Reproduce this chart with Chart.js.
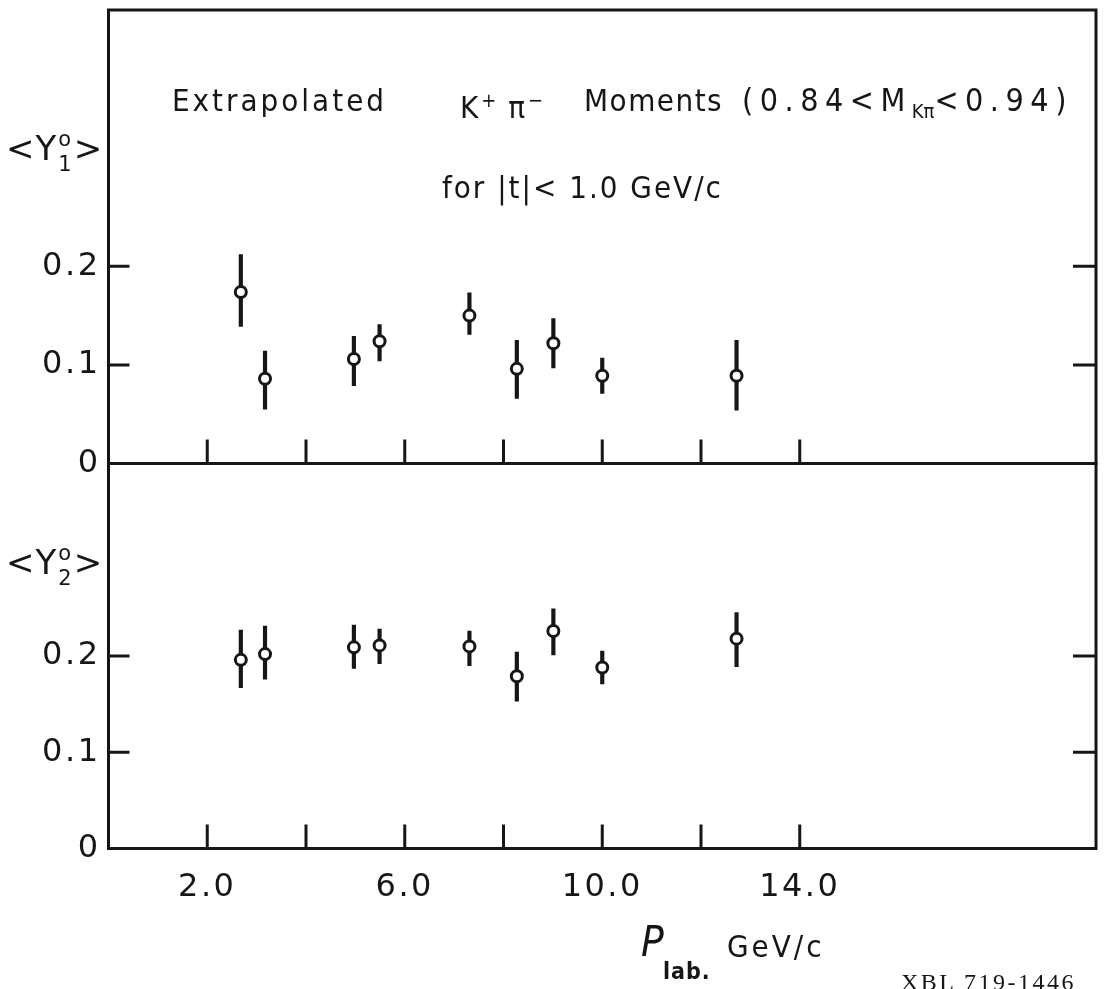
<!DOCTYPE html>
<html>
<head>
<meta charset="utf-8">
<title>Extrapolated K+ pi- Moments</title>
<script src="https://cdn.jsdelivr.net/npm/chart.js@4.4.1/dist/chart.umd.min.js"></script>
<style>
  body { margin: 0; background: #fff; }
  #page { position: relative; width: 1110px; height: 989px; overflow: hidden; background: #fff; color: #161616;
          font-family: 'DejaVu Sans Condensed', 'DejaVu Sans', sans-serif; }
  canvas { position: absolute; left: 0; }
  .lbl { position: absolute; white-space: nowrap; font-size: 31px; line-height: 31px; letter-spacing: 3px; }
  .lbl sup, .lbl sub { font-size: 20px; letter-spacing: 0; }
  .ylab { font-family: 'DejaVu Sans', sans-serif; font-size: 34px; line-height: 34px; letter-spacing: 1px; }
  .stk { display: inline-block; vertical-align: -11px; font-size: 21px; line-height: 25px; letter-spacing: 0; margin: 0 2px 0 1px; }
  .stk span { display: block; }
  .xbl { position: absolute; white-space: nowrap; font-family: 'Liberation Serif', serif; font-size: 24px; letter-spacing: 2.5px; }
</style>
</head>
<body>
<div id="page">
  <canvas id="topPanel" width="1110" height="490" style="top:0"></canvas>
  <canvas id="bottomPanel" width="1110" height="549" style="top:440px"></canvas>

  <div class="lbl" style="left:172px; top:85px">Extrapolated</div>
  <div class="lbl" style="left:460px; top:85px">K<sup>+</sup> π<sup>−</sup></div>
  <div class="lbl" style="left:584px; top:85px; letter-spacing:1.5px">Moments</div>
  <div class="lbl" style="left:742px; top:84px; font-size:32px; line-height:32px; letter-spacing:6.5px">(0.84&lt;M<sub>Kπ</sub>&lt;0.94)</div>
  <div class="lbl" style="left:442px; top:172px; letter-spacing:2px">for |t|&lt; 1.0 GeV/c</div>

  <div class="lbl ylab" style="left:6px; top:127px">&lt;Y<span class="stk"><span>o</span><span>1</span></span>&gt;</div>
  <div class="lbl ylab" style="left:6px; top:541px">&lt;Y<span class="stk"><span>o</span><span>2</span></span>&gt;</div>

  <div class="lbl" style="left:641px; top:921px; font-size:42px; line-height:42px; font-style:italic">P</div>
  <div class="lbl" style="left:663px; top:960px; font-size:23px; line-height:23px; letter-spacing:1px; font-weight:bold">lab.</div>
  <div class="lbl" style="left:727px; top:931px">GeV/c</div>
  <div class="xbl" style="left:901px; top:969px">XBL 719-1446</div>
</div>
<script>
// momentum (GeV/c) and moments
const pLab = [2.68, 3.17, 4.97, 5.49, 7.31, 8.27, 9.01, 10.0, 12.72];

const y1 = [0.174, 0.086, 0.106, 0.124, 0.150, 0.096, 0.122, 0.089, 0.089];
const y1Lo = [0.139, 0.055, 0.079, 0.104, 0.131, 0.066, 0.097, 0.071, 0.054];
const y1Hi = [0.212, 0.114, 0.129, 0.141, 0.173, 0.125, 0.147, 0.107, 0.125];

const y2 = [0.196, 0.202, 0.209, 0.211, 0.210, 0.179, 0.226, 0.188, 0.218];
const y2Lo = [0.167, 0.176, 0.187, 0.192, 0.190, 0.153, 0.201, 0.171, 0.189];
const y2Hi = [0.227, 0.231, 0.232, 0.228, 0.226, 0.204, 0.249, 0.205, 0.245];

const xTickMarks = [2, 4, 6, 8, 10, 12, 14];
const xTickLabels = [2, 6, 10, 14];
const yTickVals = [0, 0.1, 0.2];

const ink = '#161616';
const tickFont = { family: "'DejaVu Sans', sans-serif", size: 32 };

// box around the panel + inward tick marks
const frameTicks = {
    id: 'frameTicks',
    beforeLayout(chart) {
        chart.ctx.letterSpacing = '2.5px';
    },
    beforeDatasetsDraw(chart) {
        const { ctx, chartArea: a } = chart;
        const x = chart.scales.x, y = chart.scales.y;
        ctx.save();
        ctx.strokeStyle = ink;
        ctx.lineWidth = 3;
        ctx.strokeRect(a.left, a.top, a.right - a.left, a.bottom - a.top);
        ctx.beginPath();
        xTickMarks.forEach(v => {
            const px = x.getPixelForValue(v);
            ctx.moveTo(px, a.bottom);
            ctx.lineTo(px, a.bottom - 24);
        });
        yTickVals.filter(v => v > 0).forEach(v => {
            const py = y.getPixelForValue(v);
            ctx.moveTo(a.left, py);
            ctx.lineTo(a.left + 21, py);
            ctx.moveTo(a.right, py);
            ctx.lineTo(a.right - 23, py);
        });
        ctx.stroke();
        ctx.restore();
    }
};

function makePanel(id, vals, lo, hi, yMax, pad, xHeight) {
    const ctx = document.getElementById(id).getContext('2d');
    return new Chart(ctx, {
        type: 'scatter',
        data: {
            datasets: [{
                type: 'bar',
                data: pLab.map((p, i) => ({ x: p, y: [lo[i], hi[i]] })),
                backgroundColor: ink,
                barThickness: 3.5,
                order: 2
            }, {
                type: 'scatter',
                data: pLab.map((p, i) => ({ x: p, y: vals[i] })),
                pointRadius: 5.5,
                pointBorderWidth: 3,
                pointBackgroundColor: '#fff',
                pointBorderColor: ink,
                order: 1
            }]
        },
        options: {
            responsive: false,
            animation: false,
            events: [],
            layout: { padding: pad },
            plugins: { legend: { display: false }, tooltip: { enabled: false } },
            scales: {
                x: {
                    type: 'linear',
                    min: 0,
                    max: 20,
                    offset: false,
                    display: xHeight > 0,
                    grid: { display: false, drawTicks: false },
                    border: { display: false },
                    afterBuildTicks: s => { s.ticks = xTickLabels.map(v => ({ value: v })); },
                    afterFit: s => { s.height = xHeight; s.paddingLeft = 0; s.paddingRight = 0; },
                    ticks: {
                        autoSkip: false,
                        maxRotation: 0,
                        padding: 20,
                        color: ink,
                        font: tickFont,
                        callback: v => v.toFixed(1)
                    }
                },
                y: {
                    type: 'linear',
                    min: 0,
                    max: yMax,
                    grid: { display: false, drawTicks: false },
                    border: { display: false },
                    afterBuildTicks: s => { s.ticks = yTickVals.map(v => ({ value: v })); },
                    afterFit: s => { s.width = 108.5; s.paddingTop = 0; s.paddingBottom = 0; },
                    ticks: {
                        padding: 8,
                        color: ink,
                        font: tickFont,
                        callback: v => v === 0 ? '0' : v.toFixed(1)
                    }
                }
            }
        },
        plugins: [frameTicks]
    });
}

// top panel: <Y1> , bottom panel: <Y2>
makePanel('topPanel', y1, y1Lo, y1Hi, 0.46, { left: 0, right: 14, top: 10, bottom: 26.5 }, 0);
makePanel('bottomPanel', y2, y2Lo, y2Hi, 0.40, { left: 0, right: 14, top: 23.5, bottom: 0 }, 140.5);
</script>
</body>
</html>
